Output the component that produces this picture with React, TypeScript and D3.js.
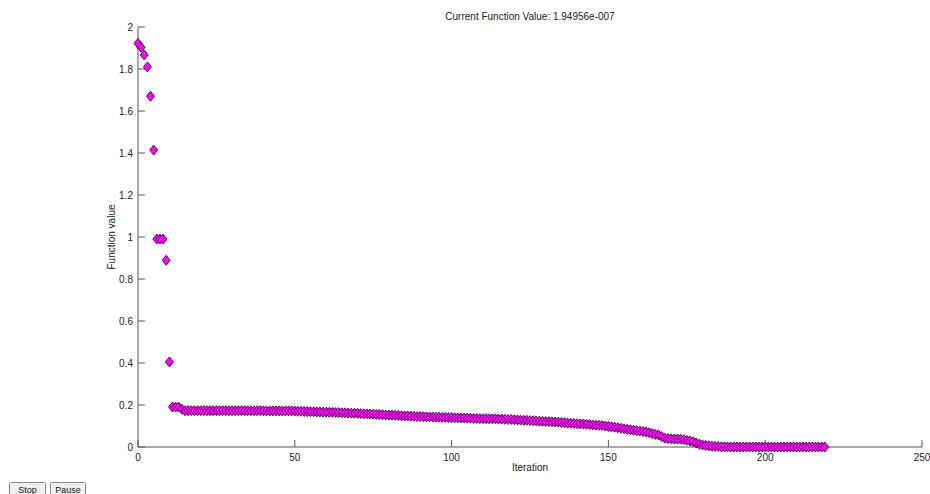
import React from "react";
import * as d3 from "d3";

const W = 930;
const H = 494;

const titleText = "Current Function Value: 1.94956e-007";
const xLabel = "Iteration";
const yLabel = "Function value";
const xTicks = [0, 50, 100, 150, 200, 250];
const yTicks = [0, 0.2, 0.4, 0.6, 0.8, 1, 1.2, 1.4, 1.6, 1.8, 2];
const buttonLabels = ["Stop", "Pause"];

const vals0to49 = [
  1.922, 1.903, 1.867, 1.81, 1.67, 1.414, 0.99, 0.99, 0.99, 0.889,
  0.405, 0.19, 0.19, 0.19, 0.18, 0.173, 0.173, 0.173, 0.173, 0.173,
  0.173, 0.173, 0.173, 0.173, 0.173, 0.173, 0.173, 0.173, 0.173, 0.173,
  0.173, 0.173, 0.173, 0.173, 0.173, 0.173, 0.173, 0.173, 0.173, 0.173,
  0.172, 0.172, 0.172, 0.172, 0.172, 0.172, 0.172, 0.172, 0.172, 0.172,
];
const vals50to99 = [
  0.171, 0.17, 0.17, 0.169, 0.169, 0.168, 0.168, 0.167, 0.167, 0.166,
  0.166, 0.165, 0.165, 0.164, 0.164, 0.163, 0.163, 0.162, 0.161, 0.161,
  0.16, 0.159, 0.158, 0.158, 0.157, 0.156, 0.155, 0.155, 0.154, 0.153,
  0.152, 0.152, 0.151, 0.15, 0.149, 0.148, 0.148, 0.147, 0.146, 0.145,
  0.145, 0.144, 0.144, 0.143, 0.143, 0.142, 0.142, 0.141, 0.141, 0.14,
];
const vals100to149 = [
  0.14, 0.139, 0.139, 0.138, 0.138, 0.137, 0.137, 0.136, 0.136, 0.135,
  0.135, 0.135, 0.134, 0.134, 0.134, 0.133, 0.133, 0.132, 0.131, 0.131,
  0.13, 0.129, 0.128, 0.127, 0.127, 0.126, 0.125, 0.124, 0.123, 0.122,
  0.121, 0.121, 0.12, 0.119, 0.118, 0.117, 0.116, 0.114, 0.113, 0.112,
  0.111, 0.11, 0.109, 0.108, 0.107, 0.105, 0.104, 0.103, 0.102, 0.1,
];
const vals150to219 = [
  0.098, 0.096, 0.094, 0.092, 0.089, 0.087, 0.084, 0.082, 0.08, 0.078,
  0.076, 0.074, 0.072, 0.068, 0.064, 0.06, 0.057, 0.05, 0.042, 0.04,
  0.039, 0.038, 0.038, 0.037, 0.035, 0.032, 0.029, 0.025, 0.019, 0.013,
  0.01, 0.008, 0.006, 0.004, 0.003, 0.002, 0.001, 0.001, 0.0005, 0.0003,
  0.0002, 0.0002, 0.0002, 0.0002, 0.0001, 0.0001, 0.0001, 0.0001, 0.0001, 0.0001,
  0.0001, 0.0001, 0.0001, 0.0001, 0.0001, 0.0001, 0.0001, 0.0001, 0.0001, 0.0001,
  0.0001, 0.0001, 0.0001, 0.0001, 0.0001, 0.0001, 0.0001, 0.0001, 0.0001, 0.0,
];

const values = [...vals0to49, ...vals50to99, ...vals100to149, ...vals150to219];

const FONT = "Arial, 'Liberation Sans', Helvetica, sans-serif";

export default function App() {
  const x = d3.scaleLinear().domain([0, 250]).range([138, 922]);
  const y = d3.scaleLinear().domain([0, 2]).range([447, 27]);
  const axisColor = "#555";
  const textColor = "#222";
  const tickLen = 7;
  const diamond = (cx: number, cy: number) =>
    `M${cx},${cy - 5}L${cx + 4},${cy}L${cx},${cy + 5}L${cx - 4},${cy}Z`;

  return (
    <svg
      width={W}
      height={H}
      style={{ position: "absolute", left: 0, top: 0, background: "#fff" }}
      fontFamily={FONT}
    >
      <rect x={0} y={0} width={W} height={H} fill="#fff" />
      {/* axes */}
      <line x1={x(0)} x2={x(250)} y1={y(0)} y2={y(0)} stroke={axisColor} strokeWidth={1} />
      <line x1={x(0)} x2={x(0)} y1={y(0)} y2={y(2)} stroke={axisColor} strokeWidth={1} />
      {xTicks.map((t) => (
        <g key={"xt" + t}>
          <line x1={x(t)} x2={x(t)} y1={y(0)} y2={y(0) - tickLen} stroke={axisColor} />
          <text x={x(t)} y={y(0) + 14} textAnchor="middle" fontSize={10} fill={textColor}>
            {t}
          </text>
        </g>
      ))}
      {yTicks.map((t) => (
        <g key={"yt" + t}>
          <line x1={x(0)} x2={x(0) + tickLen} y1={y(t)} y2={y(t)} stroke={axisColor} />
          <text x={x(0) - 5} y={y(t) + 3.5} textAnchor="end" fontSize={10} fill={textColor}>
            {t}
          </text>
        </g>
      ))}
      {/* labels */}
      <text x={(x(0) + x(250)) / 2} y={20} textAnchor="middle" fontSize={10} fill={textColor}>
        {titleText}
      </text>
      <text x={(x(0) + x(250)) / 2} y={471} textAnchor="middle" fontSize={10} fill={textColor}>
        {xLabel}
      </text>
      <text
        transform={`translate(115,${(y(0) + y(2)) / 2}) rotate(-90)`}
        textAnchor="middle"
        fontSize={10}
        fill={textColor}
      >
        {yLabel}
      </text>
      {/* markers */}
      {values.map((v, i) => (
        <path
          key={"p" + i}
          d={diamond(x(i), y(v))}
          fill="#ff00ff"
          stroke="#200020"
          strokeWidth={0.8}
        />
      ))}
      {/* buttons */}
      {buttonLabels.map((b, i) => {
        const bx = i === 0 ? 9 : 50;
        const bw = i === 0 ? 36 : 35;
        return (
          <g key={b}>
            <rect x={bx + 0.5} y={482.5} width={bw} height={14} fill="#f0f0f0" stroke="#8a8a8a" rx={1} />
            <text x={bx + bw / 2 + 0.5} y={493} textAnchor="middle" fontSize={9} fill="#111">
              {b}
            </text>
          </g>
        );
      })}
    </svg>
  );
}
